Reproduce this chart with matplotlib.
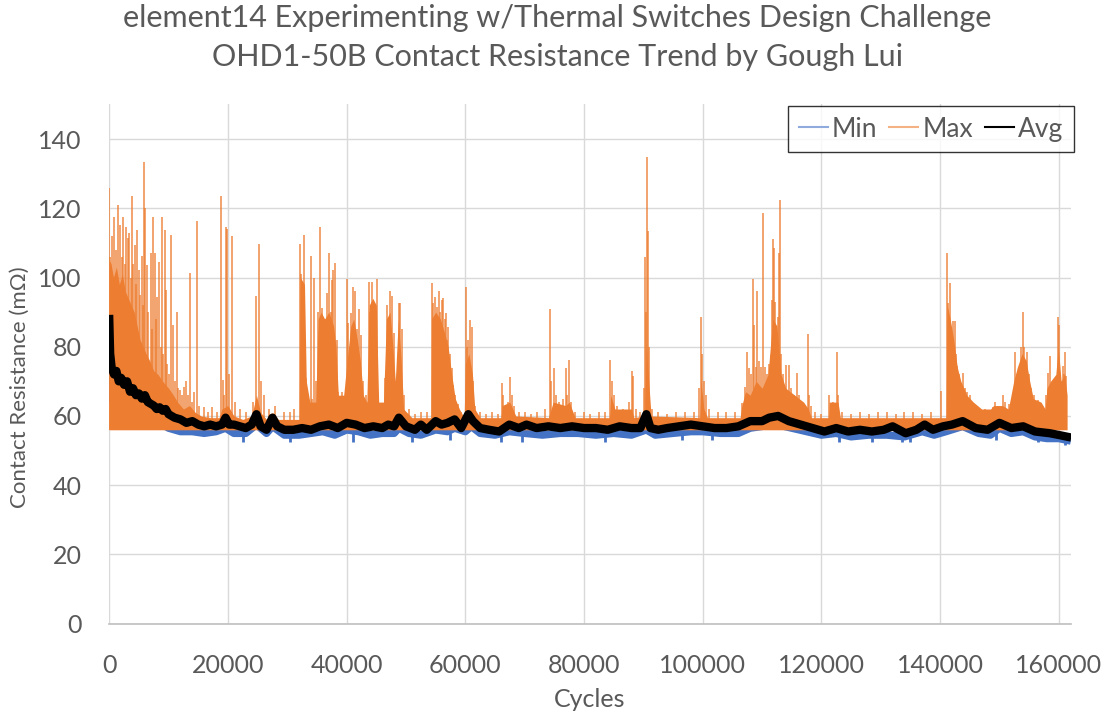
import numpy as np
import matplotlib.pyplot as plt

# ---- data (cycles, milliohms) ----
avg_x = [0, 150, 400, 800, 1200, 1600, 2000, 2500, 3000, 3500, 4000, 4500, 5000, 5500, 6000, 6500,
         7000, 7500, 8000, 8500, 9000, 9500, 10000, 11000, 12000, 13000, 14000, 15000, 16000, 17000,
         18000, 19000, 19600, 20200, 21000, 22000, 23000, 24000, 24800, 25500, 26500, 27500, 28300,
         29500, 31000, 32500, 34000, 35500, 37000, 38500, 40000, 41500, 43000, 44500, 46000, 47000,
         48000, 48800, 50000, 51500, 52500, 53500, 55000, 56000, 57000, 58200, 59300, 60500, 61300,
         62500, 64000, 65700, 67400, 69000, 70300, 72000, 74000, 76000, 78000, 80000, 82000, 84000,
         86000, 88000, 89500, 90500, 91200, 92500, 94000, 96000, 98000, 100000, 102000, 104000, 106000,
         108000, 110000, 111200, 112700, 114500, 116500, 118500, 120500, 122500, 124500, 126500,
         128500, 130500, 132000, 134200, 136000, 137400, 138800, 140500, 142000, 143800, 146000,
         148000, 150000, 152000, 154000, 156000, 158500, 160000, 161400]
avg_y = [88, 78, 74, 72, 73, 70, 71, 69, 70, 67, 68, 66, 66.5, 65, 66, 64,
         63.5, 63, 62, 62.5, 61.5, 62, 60.5, 59.5, 59, 58, 58.5, 57.5, 57, 57.5,
         57, 57.5, 59.5, 57.5, 57.5, 57, 56.5, 57.5, 60.5, 57, 56, 59.5, 57,
         56, 56, 56.5, 56, 57, 57.5, 56.5, 58, 57.5, 56.5, 57, 56.5, 57.5,
         57, 59.5, 57, 56, 57.5, 56, 58.5, 57.5, 58, 59, 56.5, 60.5, 58.5,
         56.5, 56, 55.5, 57.5, 56.5, 57.5, 56.5, 57, 56.5, 57, 56.5, 56.5, 56,
         57, 56.5, 56.5, 60.5, 56.5, 56, 56.5, 57, 57.5, 57, 56.5, 56.5, 57,
         58.5, 58.5, 59.5, 60, 58.5, 57.5, 56.5, 55.5, 56.5, 55.5, 56,
         55.5, 56, 57, 55, 56, 57.5, 56, 57, 57.5, 58.5, 56.5,
         56, 58, 56.5, 57, 55.5, 55, 54.5, 54]

min_x = [0, 200, 600, 1200, 2000, 3000, 4000, 5000, 6000, 7000, 8000, 9000, 10000, 11000, 12000,
         14000, 16000, 18000, 19600, 21000, 23000, 24800, 26500, 27500, 29500, 32000, 34000, 36000,
         38000, 40000, 42000, 44000, 46000, 48000, 48800, 50500, 52500, 55000, 57000, 58200, 60000,
         61000, 62500, 65000, 67400, 70000, 73000, 76000, 79000, 82000, 85000, 88000, 90500, 92000,
         95000, 98000, 100000, 103000, 106000, 108000, 110000, 112500, 115000, 117500, 120000, 122500,
         125000, 128000, 131000, 134000, 137000, 139000, 141000, 143800, 146500, 148500, 150000,
         152000, 154000, 156000, 158000, 160000, 161400]
min_y = [72, 66.5, 64.5, 63.5, 62.5, 61.5, 60.5, 60, 59, 58.5, 57.5, 57.5, 56.5, 56, 55.5,
         55.5, 55, 55.5, 56.5, 55, 55, 57.5, 55, 57, 54.5, 54.5, 55, 55.5,
         54.5, 56, 55.5, 54.5, 55, 55, 56.5, 55, 54.5, 56, 55.5, 56.5, 55.5,
         57, 55, 54.5, 55.5, 55, 54.5, 55, 55, 54.5, 55, 54.5, 56, 54.5,
         55, 55.5, 55.5, 55, 55, 56.5, 57, 57.5, 56.5, 55.5, 54.5, 55,
         54, 54.5, 54.5, 54, 55.5, 54.5, 55.5, 57, 55, 54.5, 56.5,
         55, 55.5, 54, 53.5, 53.5, 53]
# short downward blips of the Min series
min_dip_x = [22500, 30500, 41000, 51000, 57500, 66000, 69500, 83500, 96500, 101500, 123000, 128500,
             133500, 135000, 149500, 156500, 161000]
min_dip_y = [52.5, 52.5, 52.5, 52.5, 53, 52.5, 52.5, 52.5, 53, 53, 52.5, 52.5,
             52.5, 52.5, 53, 52.5, 51.5]

# upper edge of the solid orange block of the Max series
max_env_x = [0, 300, 700, 1200, 1700, 2200, 2700, 3200, 3700, 4200, 4700, 5200, 5700, 6200, 6800,
             7500, 8200, 9000, 10000, 10800, 11500, 12500, 13500, 14500, 15500, 17000, 18500, 19000,
             20000, 21000, 22500, 24000, 24800, 25500, 26500, 27500, 28500, 32000, 32200, 32900,
             33200, 33800, 34800, 35200, 35700, 36300, 37000, 37800, 38200, 38600, 39500, 40200,
             40700, 41200, 41800, 42300, 42800, 43400, 43800, 44400, 45000, 45400, 46200, 46700,
             47300, 47800, 48200, 48700, 49200, 49600, 51000, 54200, 54300, 55000, 55800, 56500,
             57100, 57700, 58300, 59000, 59800, 60000, 60600, 61200, 61600, 62500, 66000, 66200,
             67500, 68500, 74000, 74800, 76900, 77500, 78500, 84300, 84500, 85200, 88000, 88400,
             90200, 90500, 90900, 91300, 99500, 99700, 100200, 100800, 106300, 106600, 107200,
             108000, 109000, 110000, 111000, 111800, 112500, 113200, 114000, 115500, 117000, 117800,
             118300, 121200, 121300, 122800, 123200, 141000, 141200, 141700, 142300, 142900, 143500,
             144500, 145600, 147000, 148500, 149000, 150500, 151500, 152400, 153000, 153800, 154500,
             155100, 155700, 157000, 157700, 158000, 158600, 159500, 159900, 160400, 161000, 161400]
max_env_y = [105, 104, 100, 103, 98, 101, 96, 94, 92, 90, 86, 82, 80, 78, 76,
             73, 72, 70, 68, 66, 64, 62, 63, 61, 60, 59.5, 59.5, 62,
             63, 60, 59, 60, 66, 61, 59, 61, 59, 59, 100, 98,
             70, 64, 64, 88, 90, 88, 90, 86, 80, 66, 66, 78,
             86, 88, 82, 76, 66, 64, 92, 94, 92, 64, 64, 88,
             90, 80, 70, 88, 76, 62, 59.5, 59.5, 88, 90, 88, 84,
             80, 72, 65, 62, 59.5, 75, 78, 72, 62, 59.5, 59.5, 63,
             64, 60, 59.5, 64, 63, 64, 59.5, 59.5, 66, 62, 62, 59.5,
             60, 80, 70, 60, 59.5, 70, 62, 59.5, 59.5, 63, 67,
             66, 70, 68, 72, 88, 86, 72, 68, 66, 64, 62,
             59.5, 59.5, 64, 64, 59.5, 59.5, 92, 88, 82, 74, 70,
             66, 64, 62, 62, 63, 63, 62, 70, 74, 78, 76,
             70, 65, 64, 62, 68, 70, 72, 80, 70, 72, 66]

# individual Max spikes (cycle, peak)
spike_x = [0, 100, 500, 790, 1100, 1460, 1800, 2100, 2360, 2600, 2860, 3150, 3370, 3600, 3880, 4050,
           4270, 4500, 4720, 5060, 5250, 5450, 5700, 5900, 6070, 6290, 6600, 6970, 7150, 7360, 7640,
           7850, 8090, 8430, 8700, 8930, 9100, 9320, 9550, 9800, 10100, 10450, 10780, 11100, 11350,
           11600, 11910, 12250, 12580, 12900, 13250, 13590, 13900, 14250, 14720, 15200, 15950, 16600,
           17360, 18200, 18760, 19150, 19350, 19600, 19880, 20200, 20610, 21200, 22000, 23000, 24200,
           24790, 25180, 25500, 26000, 27000, 28000, 29500, 30500, 31200,
           32130, 32250, 32500, 32800, 33100, 33500, 33930, 34200, 34490, 34800, 35110, 35500, 35780,
           36100, 36400, 36620, 36850, 37070, 37300, 37470, 37750, 38080, 38300, 38600, 39200, 39990,
           40300, 40720, 41120, 41400, 41700, 42130, 42400, 42800, 43300, 43810, 44000, 44260, 44600,
           45050, 45300, 45900, 46400, 46790, 47300, 47630, 48000, 48300, 48760, 48980, 49250, 49600,
           50500, 51500, 52500, 53500,
           54320, 54500, 54880, 55100, 55270, 55610, 55800, 56000, 56280, 56500, 56730, 56900, 57120,
           57400, 57690, 57970, 58300, 58800, 59300, 60100, 60300, 60500, 60780, 61060, 61350, 61700,
           62500, 63500, 64500, 65500, 66110, 66400, 66800, 67200, 67520, 67800, 68200, 69000, 70000,
           71000, 72000,
           73500, 74200, 74500, 74930, 75300, 75800, 76400, 76900, 77200, 77470, 77800, 78500, 80000,
           81000, 82500, 83500, 84450, 84700, 85000, 85500, 86500, 87600, 88060, 88300, 88700, 89500,
           90100, 90310, 90450, 90600, 90820, 91000, 91400, 92500, 94000, 95500, 97000, 98500, 99400,
           99720, 99900, 100200, 100500, 101000, 102500, 104000, 105500,
           106550, 107110, 107510, 107840, 108200, 108520, 108690, 108900, 109190, 109500, 109800,
           110200, 110500, 110900, 111200, 111440, 111600, 111780, 112000, 112200, 112400, 112620,
           112900, 113010, 113250, 113600, 114020, 114470, 114800, 115300, 115930, 116300, 116800,
           117200, 117670, 117900, 118200, 119000, 120000, 121270, 121600, 122000, 122300, 122670,
           122800, 123500, 125000, 126500, 128000, 129500, 131000, 132500, 134000, 135500, 137000,
           138500,
           140140, 141210, 141400, 141660, 141850, 142000, 142220, 142500, 142700, 142850, 143200,
           143400, 143910, 144200, 144600, 145000, 145590, 146200, 146800, 147500, 148300, 148960,
           149200, 149800, 150530, 150900, 151600, 152200, 152610, 152900, 153300, 153600, 153910,
           154100, 154400, 154690, 155000, 155400, 155800, 156500, 157200, 157800, 158230, 158510,
           158800, 159200, 159500, 159800, 160000, 160300, 160650, 160900, 161040, 161250]
spike_y = [126, 106, 112, 117.6, 108, 121, 115.2, 106, 117.6, 104, 114.6, 111.4, 112.8, 100, 123.6, 104,
           109.5, 98, 113.8, 102.2, 95, 106.1, 92, 133.5, 120, 103.7, 90, 107, 85, 117.4, 107,
           88, 94.5, 104.6, 80, 117.4, 78, 113.6, 96.5, 75, 72, 112.3, 86.3, 70, 90,
           68, 67.6, 66, 68.5, 70, 66, 101.3, 64, 67, 116.2, 63, 62.7, 61,
           62.7, 61, 123.6, 70.5, 66, 114.6, 114, 72, 112.1, 64, 62, 61, 64,
           94.7, 109.7, 70, 66, 62, 63, 61, 61, 62,
           109.7, 101, 92, 112.3, 71, 66, 106.3, 65, 99.8, 70, 89.9, 114.5, 91.1,
           85, 88, 95.5, 86, 107, 90, 99.3, 102.2, 104.1, 82, 67, 67, 99.5,
           87, 89.7, 97.4, 96, 85, 90.8, 83.4, 70, 66, 98.8, 90, 98.8, 90,
           99.5, 64, 62, 71, 92.1, 96, 94.7, 84, 70, 92.6, 92.6, 85, 66,
           62, 60.5, 61, 61,
           98.5, 92.6, 94.5, 88, 91.6, 96, 90, 93.5, 94, 88, 89.7, 82, 85.8,
           78, 73.8, 69, 66, 63.5, 61, 97.4, 80, 82, 87.8, 85.8, 70, 63,
           61, 60.5, 61, 60.5, 69.5, 66, 63, 64, 71.2, 66, 63, 61, 61,
           60.5, 61,
           62, 91, 70, 73.8, 66, 64, 65, 73.8, 66, 76.2, 64, 61, 61,
           60.5, 61, 61, 76.2, 70, 66, 63, 62, 64, 73, 71.5, 62, 61,
           68, 106, 90, 134.7, 113.5, 80, 62, 61, 60.5, 61, 61, 61, 68,
           88.7, 78, 70, 66, 62, 61, 61, 61,
           63.7, 68.5, 78.6, 73.8, 72, 99.6, 86.3, 74, 96.2, 76, 74,
           118.6, 74, 72, 75, 77.6, 93.5, 111.1, 108.5, 93, 85, 88.7,
           107, 122.4, 78, 72, 74.8, 74.8, 68, 66, 72.5, 66, 64,
           63, 83.7, 66, 63, 61, 60.5, 66.1, 63, 64, 63, 78.6,
           66, 61, 60.5, 61, 60.5, 61, 61, 60.5, 61, 61, 60.5,
           61,
           67.3, 107, 92.6, 98.5, 83.9, 80, 87.3, 87.3, 78, 74.3, 72,
           69.9, 72.3, 68, 67, 66, 63.7, 63, 62, 62, 61.5, 62.7,
           64, 63, 66.1, 64, 63.5, 66, 78.6, 72, 70, 80, 89.9,
           80, 76, 78.6, 72, 68, 66, 64.7, 63, 66, 72.4, 77.2,
           67, 68, 66, 88.5, 86.3, 70, 74.3, 72, 78.6, 71.4]

x_ticks = [0, 20000, 40000, 60000, 80000, 100000, 120000, 140000, 160000]
y_ticks = [0, 20, 40, 60, 80, 100, 120, 140]

BLUE = '#4472C4'
ORANGE = '#ED7D31'
GREY = '#595959'
plt.rcParams['font.family'] = ['Lato', 'DejaVu Sans']

fig = plt.figure(figsize=(11.08, 7.19), dpi=100)
ax = fig.add_axes([0.0986, 0.1327, 0.8677, 0.722])

ax.plot(min_x, min_y, color=BLUE, lw=5.5, zorder=2)
ax.vlines(min_dip_x, min_dip_y, 55, color=BLUE, lw=2, zorder=2)
ax.fill_between(max_env_x, 56, max_env_y, color=ORANGE, lw=0, zorder=3)
ax.vlines(spike_x, 56, spike_y, color=ORANGE, lw=1.1, alpha=0.9, zorder=3)
ax.plot(avg_x, avg_y, color='black', lw=6, zorder=4)

# legend handles (thin lines like the source)
h_min, = ax.plot([], [], color='#8FAADC', lw=1.5, label='Min')
h_max, = ax.plot([], [], color='#F4B183', lw=1.5, label='Max')
h_avg, = ax.plot([], [], color='black', lw=1.5, label='Avg')
leg = ax.legend(handles=[h_min, h_max, h_avg], loc='upper right', bbox_to_anchor=(1.003, 0.997),
                ncol=3, fontsize=19, frameon=True, fancybox=False, edgecolor='black',
                handlelength=1.1, handletextpad=0.15, columnspacing=0.45, borderpad=0.4,
                borderaxespad=0)
leg.get_frame().set_linewidth(1.0)
for t in leg.get_texts():
    t.set_color(GREY)

ax.set_xlim(0, 162000)
ax.set_ylim(0, 150)
ax.set_xticks(x_ticks)
ax.set_yticks(y_ticks)
ax.set_xticklabels([str(v) for v in x_ticks])
ax.tick_params(length=0, labelsize=18, labelcolor=GREY)
ax.tick_params(axis='x', pad=22)
ax.tick_params(axis='y', pad=20)
ax.grid(True, color='#D9D9D9', lw=1)
ax.set_axisbelow(True)
for s in ['left', 'right', 'top']:
    ax.spines[s].set_visible(False)
ax.spines['bottom'].set_color('#BFBFBF')
ax.spines['bottom'].set_linewidth(1.2)

ax.set_xlabel('Cycles', fontsize=18, color=GREY, labelpad=8)
ax.set_ylabel('Contact Resistance (mΩ)', fontsize=16, color=GREY)
ax.yaxis.set_label_coords(-0.083, 0.455)

fig.text(0.503, 0.975, 'element14 Experimenting w/Thermal Switches Design Challenge',
         ha='center', va='center', fontsize=22, color=GREY)
fig.text(0.503, 0.921, 'OHD1-50B Contact Resistance Trend by Gough Lui',
         ha='center', va='center', fontsize=22, color=GREY)

fig.savefig('out.png', dpi=100)
